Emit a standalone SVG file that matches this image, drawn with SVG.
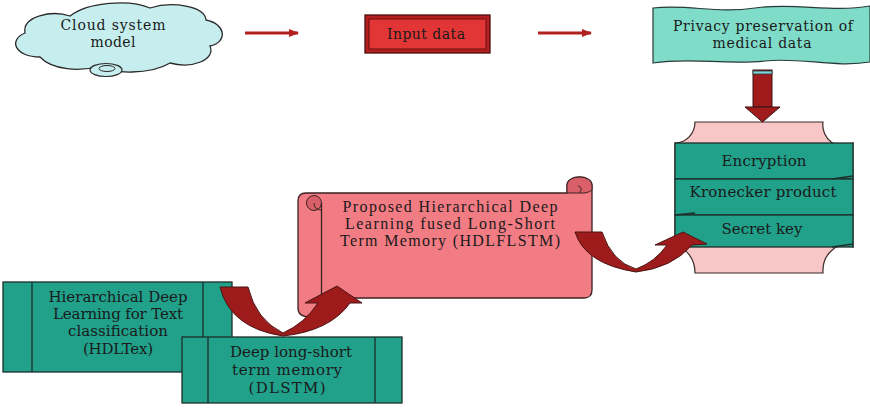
<svg xmlns="http://www.w3.org/2000/svg" width="870" height="408" viewBox="0 0 870 408">
<defs>
<style>
.t{font-family:"DejaVu Serif","Liberation Serif",serif;font-size:15px;fill:#1a1a1a;text-anchor:middle}
.t2{font-family:"DejaVu Serif","Liberation Serif",serif;font-size:14px;fill:#1a1a1a;text-anchor:middle}
.ts{font-family:"Liberation Serif","DejaVu Serif",serif;font-size:16px;fill:#1a1a1a;text-anchor:middle}
.teal{fill:#21a08a;stroke:#1e2f2c;stroke-width:1.3}
.ln{stroke:#1e2f2c;stroke-width:1.3;fill:none}
.bigarrow{fill:#9e1b1b;stroke:#4a1414;stroke-width:1}
.harrow{stroke:#b32020;stroke-width:3;fill:none}
</style>
<marker id="ah" markerWidth="10" markerHeight="8" refX="9" refY="4" orient="auto" markerUnits="userSpaceOnUse">
<path d="M0,0 L10,4 L0,8 Z" fill="#b32020"/>
</marker>
</defs>
<rect width="870" height="408" fill="#ffffff"/>

<g id="cloud">
<path d="M40 57 C15 57 8 40 25 33 C22 16 52 10 70 16 C88 2 130 -1 150 8 C172 1 205 6 206 20 C226 24 228 42 210 46 C216 60 192 69 170 63 C150 75 112 74 100 66 C80 72 52 70 40 57 Z" fill="#c6eeee" stroke="#2a2a2a" stroke-width="1.3"/>
<ellipse cx="106" cy="70" rx="16" ry="6.5" fill="#c6eeee" stroke="#2a2a2a" stroke-width="1.2"/>
<ellipse cx="107" cy="68.5" rx="8" ry="3" fill="#c6eeee" stroke="#2a2a2a" stroke-width="1"/>
<text class="t2" x="113" y="30" textLength="105">Cloud system</text>
<text class="t2" x="113" y="47" textLength="45">model</text>
</g>

<g id="input">
<rect x="365" y="15" width="125" height="38" fill="#b51f1f" stroke="#4a1010" stroke-width="1.3"/>
<rect x="369" y="19" width="117" height="30" fill="#e23636" stroke="#6b1010" stroke-width="1"/>
<text class="t2" x="426" y="39" textLength="78">Input data</text>
</g>

<g id="privacy">
<path d="M653 8 C690 4 715 14 755 8 C795 2 830 13 870 6 L870 62 C835 68 800 57 765 61 C725 65 690 57 653 63 Z" fill="#7fdcc9" stroke="#2a3a38" stroke-width="1.2"/>
<text class="t2" x="763" y="31" textLength="180">Privacy preservation of</text>
<text class="t2" x="762" y="48" textLength="99">medical data</text>
</g>

<g id="security">
<path d="M695 122 L823 122 A20 21 0 0 0 853 143 L853 247 A22 26 0 0 0 823 273 L695 273 A20 26 0 0 0 675 247 L675 143 A20 21 0 0 0 695 122 Z" fill="#f8c6c6" stroke="#3a2a2a" stroke-width="1.2"/>
<rect class="teal" x="675" y="143" width="178" height="36"/>
<rect class="teal" x="675" y="179" width="178" height="36"/>
<rect class="teal" x="675" y="215" width="178" height="32"/>
<path class="ln" d="M832 179 L853 176 M675 215 L695 213 M832 247 L853 244"/>
<text class="t" x="764" y="166" textLength="85">Encryption</text>
<text class="t" x="763" y="197" textLength="147">Kronecker product</text>
<text class="t" x="762" y="234" textLength="81">Secret key</text>
</g>

<g id="scroll">
<path d="M306 193 L567 193 L567 185 A12.5 8 0 0 1 592 185 L592 290 Q592 298 584 298 L322 298 L322 308 Q322 317 310 317 Q298 317 298 308 L298 201 Q298 193 306 193 Z" fill="#f27c84" stroke="#3a2222" stroke-width="1.3"/>
<path d="M567 193 L567 185 A12.5 8 0 0 1 592 185 L592 190 A12.5 6 0 0 1 579 193 Z" fill="#d9606b" stroke="#3a2222" stroke-width="1"/>
<path d="M579 193 Q584 188 578 186" fill="none" stroke="#3a2222" stroke-width="1"/>
<circle cx="314" cy="203" r="7.5" fill="#d9606b" stroke="#3a2222" stroke-width="1"/>
<path d="M321.5 203 L321.5 298" fill="none" stroke="#3a2222" stroke-width="1.3"/>
<path d="M314 203 Q314 210 321.5 210" fill="none" stroke="#3a2222" stroke-width="1"/>
<text class="ts" x="450" y="212" textLength="215">Proposed Hierarchical Deep</text>
<text class="ts" x="450" y="229" textLength="210">Learning fused Long-Short</text>
<text class="ts" x="450" y="246" textLength="220">Term Memory (HDLFLSTM)</text>
</g>

<g id="hdltex">
<rect class="teal" x="3" y="282" width="229" height="90"/>
<path class="ln" d="M32 282 L32 372 M203 282 L203 372"/>
<text class="t" x="118" y="302" textLength="139">Hierarchical Deep</text>
<text class="t" x="118" y="319" textLength="130">Learning for Text</text>
<text class="t" x="118" y="336" textLength="100">classification</text>
<text class="t" x="118" y="354" textLength="70">(HDLTex)</text>
</g>

<g id="dlstm">
<rect class="teal" x="182" y="337" width="220" height="66"/>
<path class="ln" d="M208 337 L208 403 M375 337 L375 403"/>
<text class="t" x="291" y="357" textLength="122">Deep long-short</text>
<text class="t" x="287" y="375" textLength="110">term memory</text>
<text class="t" x="287" y="393" textLength="77">(DLSTM)</text>
</g>

<g id="connectors">
<line class="harrow" x1="245" y1="33" x2="298" y2="33" marker-end="url(#ah)"/>
<line class="harrow" x1="538" y1="33" x2="591" y2="33" marker-end="url(#ah)"/>
<g id="down-arrow">
<rect x="753" y="70" width="19" height="37" fill="#a01c1c" stroke="#3a1212" stroke-width="1"/>
<rect x="753" y="71" width="19" height="3" fill="#7fd4d8" stroke="#2a3a3a" stroke-width="0.8"/>
<path d="M745 107 L780 107 L762.5 122 Z" fill="#a01c1c" stroke="#3a1212" stroke-width="1"/>
</g>
<path class="bigarrow" d="M220 287 L248 287 Q256 320 283 333 Q305 323 318 303 L305 303 L337 286 L362 303 L350 303 Q330 331 283 336 Q230 328 220 287 Z"/>
<path class="bigarrow" d="M575 232 L602 232 Q612 262 636 269 Q655 262 667 245 L655 245 L683 232 L707 244 L692 245 Q672 268 636 272 Q585 264 575 232 Z"/>
</g>
</svg>
